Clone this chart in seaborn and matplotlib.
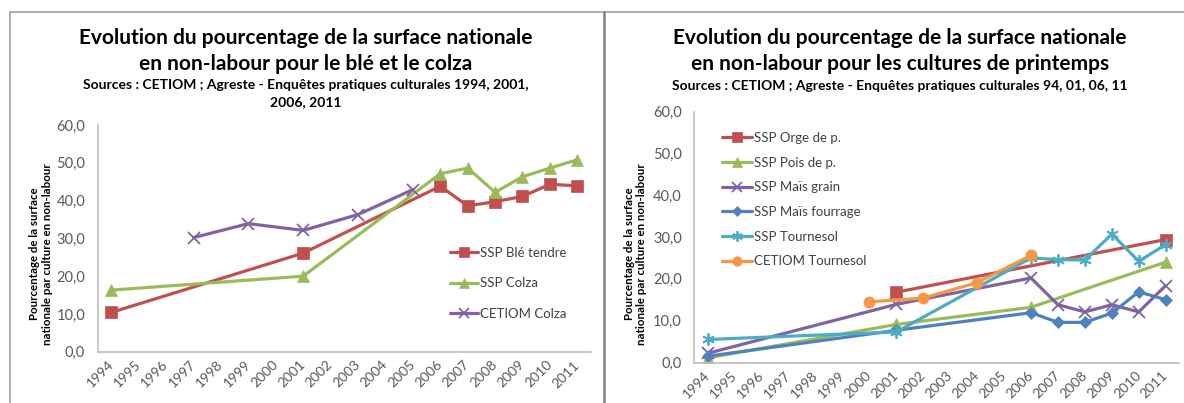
import matplotlib
matplotlib.use("Agg")
import matplotlib.pyplot as plt
from matplotlib.lines import Line2D
import seaborn as sns
import pandas as pd

# ---------------- data ----------------
years = list(range(1994, 2012))
year_labels = [str(y) for y in years]
y_ticks = [0, 10, 20, 30, 40, 50, 60]
y_tick_labels = ["0,0", "10,0", "20,0", "30,0", "40,0", "50,0", "60,0"]

# left chart: blé et colza
ble_years = [1994, 2001, 2006, 2007, 2008, 2009, 2010, 2011]
ble_vals = [10.4, 26.1, 43.8, 38.6, 39.7, 41.1, 44.3, 43.9]
colza_years = [1994, 2001, 2006, 2007, 2008, 2009, 2010, 2011]
colza_vals = [16.3, 20.0, 47.1, 48.6, 42.2, 46.3, 48.6, 50.8]
cetiom_colza_years = [1997, 1999, 2001, 2003, 2005]
cetiom_colza_vals = [30.2, 33.9, 32.1, 36.3, 42.9]

# right chart: cultures de printemps
orge_years = [2001, 2011]
orge_vals = [16.8, 29.4]
pois_years = [1994, 2001, 2006, 2011]
pois_vals = [1.1, 9.1, 13.2, 24.0]
mais_grain_years = [1994, 2001, 2006, 2007, 2008, 2009, 2010, 2011]
mais_grain_vals = [2.2, 13.9, 20.2, 13.8, 12.1, 13.8, 12.1, 18.4]
mais_fourrage_years = [1994, 2001, 2006, 2007, 2008, 2009, 2010, 2011]
mais_fourrage_vals = [1.5, 7.7, 11.9, 9.6, 9.6, 11.8, 16.9, 15.0]
tournesol_years = [1994, 2001, 2006, 2007, 2008, 2009, 2010, 2011]
tournesol_vals = [5.5, 7.3, 25.0, 24.6, 24.5, 30.7, 24.2, 28.2]
cetiom_tournesol_years = [2000, 2002, 2004, 2006]
cetiom_tournesol_vals = [14.5, 15.4, 19.1, 25.6]

left_title = "Evolution du pourcentage de la surface nationale\nen non-labour pour le blé et le colza"
left_sources = "Sources : CETIOM ; Agreste - Enquêtes pratiques culturales 1994, 2001,\n2006, 2011"
right_title = "Evolution du pourcentage de la surface nationale\nen non-labour pour les cultures de printemps"
right_sources = "Sources : CETIOM ; Agreste - Enquêtes pratiques culturales 94, 01, 06, 11"
ylabel = "Pourcentage de la surface\nnationale par culture en non-labour"

RED, GREEN, PURPLE, BLUE, CYAN, ORANGE = "#C0504D", "#9BBB59", "#8064A2", "#4F81BD", "#4BACC6", "#F79646"

left_series = [
    ("SSP Blé tendre", ble_years, ble_vals, RED, "s", 8),
    ("SSP Colza", colza_years, colza_vals, GREEN, "^", 9),
    ("CETIOM Colza", cetiom_colza_years, cetiom_colza_vals, PURPLE, "x", 8),
]
right_series = [
    ("SSP Orge de p.", orge_years, orge_vals, RED, "s", 8),
    ("SSP Pois de p.", pois_years, pois_vals, GREEN, "^", 9),
    ("SSP Maïs grain", mais_grain_years, mais_grain_vals, PURPLE, "x", 8),
    ("SSP Maïs fourrage", mais_fourrage_years, mais_fourrage_vals, BLUE, "D", 6.5),
    ("SSP Tournesol", tournesol_years, tournesol_vals, CYAN, (6, 2, 0), 9),
    ("CETIOM Tournesol", cetiom_tournesol_years, cetiom_tournesol_vals, ORANGE, "o", 8),
]

# ---------------- style ----------------
sns.set_theme(style="white")
plt.rcParams["font.family"] = ["Lato", "DejaVu Sans"]

W, H = 1184, 403
fig = plt.figure(figsize=(W / 100, H / 100), dpi=100)
fig.patch.set_facecolor("white")


def px_axes(x0, x1, y_top, y_bot):
    return fig.add_axes([x0 / W, (H - y_bot) / H, (x1 - x0) / W, (y_bot - y_top) / H])


ax_l = px_axes(97.7, 591.0, 125.0, 351.7)
ax_r = px_axes(694.2, 1179.2, 111.5, 362.5)

TICK_COL = "#595959"
SPINE_COL = "#BFBFBF"


def draw(ax, series):
    for name, xs, vs, col, mk, ms in series:
        df = pd.DataFrame({"year": xs, "value": vs})
        filled = mk not in ("x",) and not isinstance(mk, tuple)
        sns.lineplot(data=df, x="year", y="value", ax=ax, color=col, marker=mk,
                     markersize=ms, markeredgecolor=col, markerfacecolor=col,
                     markeredgewidth=0.5 if filled else 1.3, linewidth=2.3,
                     label=name, sort=False, errorbar=None)
    ax.set_xlim(years[0] - 0.5, years[-1] + 0.5)
    ax.set_ylim(0, 60)
    ax.set_xticks(years)
    ax.set_xticklabels(year_labels, rotation=45, ha="right", va="center",
                       rotation_mode="anchor", color=TICK_COL, fontsize=10)
    ax.set_yticks(y_ticks)
    ax.set_yticklabels(y_tick_labels, color=TICK_COL, fontsize=10.5)
    ax.tick_params(axis="x", length=0, pad=8)
    ax.tick_params(axis="y", length=0, pad=9)
    ax.set_xlabel("")
    ax.set_ylabel("")
    for s in ("top", "right"):
        ax.spines[s].set_visible(False)
    for s in ("left", "bottom"):
        ax.spines[s].set_color(SPINE_COL)
        ax.spines[s].set_linewidth(1.2)
    ax.grid(False)
    ax.set_facecolor("white")


draw(ax_l, left_series)
draw(ax_r, right_series)

leg_kw = dict(frameon=False, fontsize=9.5, handletextpad=0.15, borderpad=0,
              borderaxespad=0, numpoints=1, markerscale=0.85, labelcolor="#404040")
ax_l.legend(loc="upper left", bbox_to_anchor=(450 / W, (H - 247) / H),
            bbox_transform=fig.transFigure, handlelength=2.15, labelspacing=1.4, **leg_kw)
ax_r.legend(loc="upper left", bbox_to_anchor=(721.7 / W, (H - 132) / H),
            bbox_transform=fig.transFigure, handlelength=2.3, labelspacing=0.96, **leg_kw)

# titles
TITLE_FS = 15
SRC_FS = 10
fig.text(306 / W, (H - 38) / H, left_title.split("\n")[0], ha="center", va="center",
         fontsize=TITLE_FS, fontweight="bold", color="black")
fig.text(306 / W, (H - 64) / H, left_title.split("\n")[1], ha="center", va="center",
         fontsize=TITLE_FS, fontweight="bold", color="black")
fig.text(306 / W, (H - 85) / H, left_sources.split("\n")[0], ha="center", va="center",
         fontsize=SRC_FS, fontweight="bold", color="black")
fig.text(306 / W, (H - 102) / H, left_sources.split("\n")[1], ha="center", va="center",
         fontsize=SRC_FS, fontweight="bold", color="black")

fig.text(900 / W, (H - 38) / H, right_title.split("\n")[0], ha="center", va="center",
         fontsize=TITLE_FS, fontweight="bold", color="black")
fig.text(900 / W, (H - 64) / H, right_title.split("\n")[1], ha="center", va="center",
         fontsize=TITLE_FS, fontweight="bold", color="black")
fig.text(900 / W, (H - 86) / H, right_sources, ha="center", va="center",
         fontsize=SRC_FS, fontweight="bold", color="black")

# y labels
fig.text(41 / W, (H - 254) / H, ylabel, rotation=90, ha="center", va="center",
         fontsize=8.3, fontweight="bold", color="black", linespacing=1.2,
         multialignment="center")
fig.text(635.5 / W, (H - 254) / H, ylabel, rotation=90, ha="center", va="center",
         fontsize=8.3, fontweight="bold", color="black", linespacing=1.2,
         multialignment="center")

# frame lines
def fline(x0, y0, x1, y1, col, lw):
    fig.add_artist(Line2D([x0 / W, x1 / W], [(H - y0) / H, (H - y1) / H],
                          transform=fig.transFigure, color=col, linewidth=lw))

fline(10, 12, W, 12, "#A6A6A6", 1.3)
fline(10, 12, 10, H, "#A6A6A6", 1.3)
fline(604, 12, 604, H, "#808080", 1.8)

fig.savefig("out.png", dpi=100, facecolor="white")
